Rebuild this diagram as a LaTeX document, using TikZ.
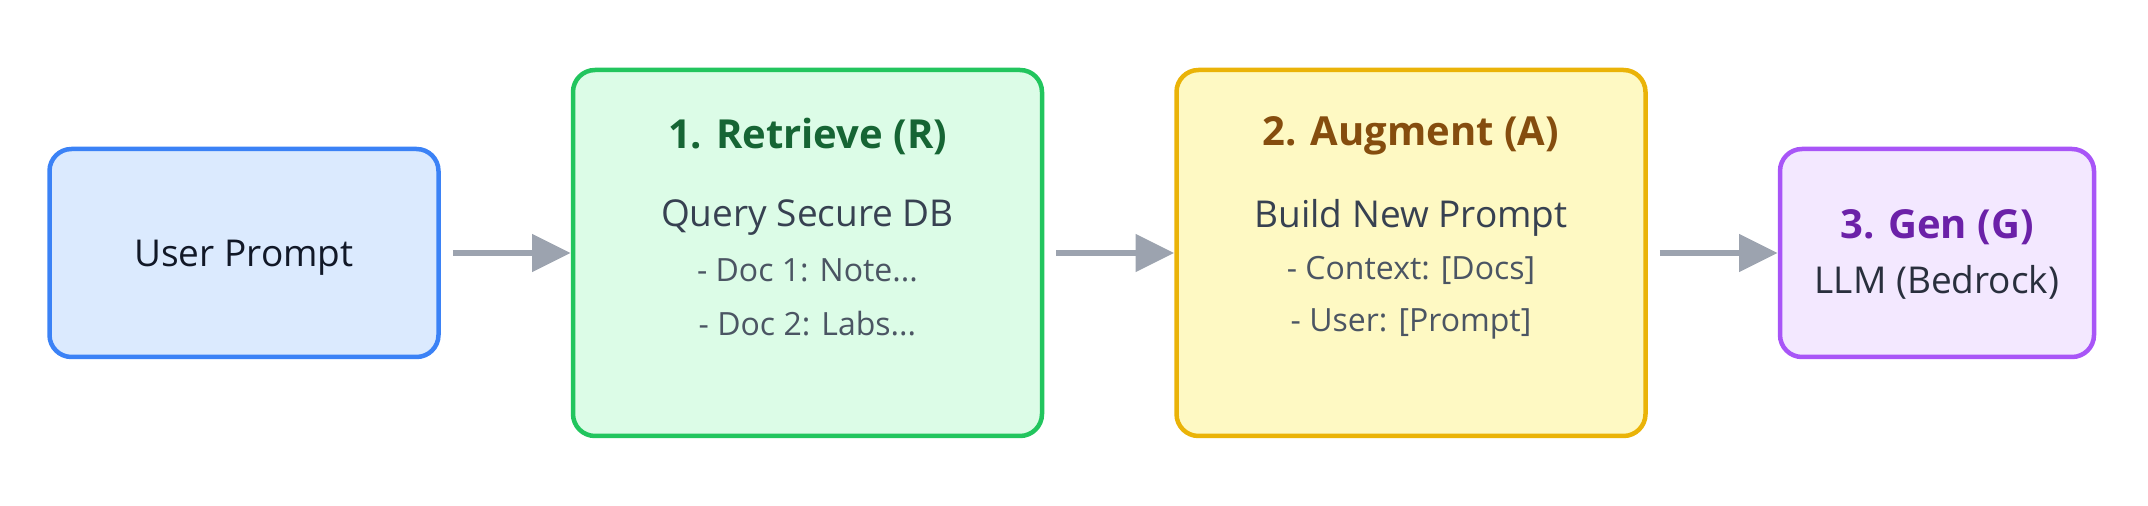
\documentclass[tikz,border=0pt]{standalone}
\usepackage{fontspec}
\setmainfont{Open Sans}
\usepackage{xcolor}
\usetikzlibrary{arrows.meta,positioning,calc}

\definecolor{userline}{HTML}{3B82F6}
\definecolor{userfill}{HTML}{DBEAFE}
\definecolor{retline}{HTML}{22C55E}
\definecolor{retfill}{HTML}{DCFCE7}
\definecolor{rettext}{HTML}{166534}
\definecolor{augline}{HTML}{EAB308}
\definecolor{augfill}{HTML}{FEF9C3}
\definecolor{augtext}{HTML}{854D0E}
\definecolor{genline}{HTML}{A855F7}
\definecolor{genfill}{HTML}{F3E8FF}
\definecolor{gentext}{HTML}{6B21A8}
\definecolor{bodytext}{HTML}{374151}
\definecolor{detailtext}{HTML}{4B5563}
\definecolor{darktext}{HTML}{111827}
\definecolor{flowgray}{HTML}{9CA3AF}

\tikzset{
    stage/.style={draw, line width=2.25pt, rounded corners=11pt, align=center},
    smallstage/.style={stage, minimum width=194.5pt, minimum height=104pt},
    bigstage/.style={stage, minimum width=234.5pt, minimum height=183pt},
    heading/.style={font=\bfseries\fontsize{20}{24}\selectfont},
    bodyline/.style={font=\fontsize{18.5}{22}\selectfont, text=bodytext},
    detailline/.style={font=\fontsize{16}{19}\selectfont, text=detailtext},
    flow/.style={draw=flowgray, line width=3pt, -{Triangle[length=19.3pt,width=18.3pt]}}
}

\begin{document}
\begin{tikzpicture}[node distance=65pt]
    \useasboundingbox (0,0) rectangle (1074pt,-253pt);

    % 四个阶段
    \node[smallstage, fill=userfill, draw=userline, text=darktext, text depth=0pt,
          font=\fontsize{18.5}{22}\selectfont] (user) at (122pt,-126.5pt) {User Prompt};
    \node[bigstage, fill=retfill, draw=retline, right=of user] (ret) {};
    \node[bigstage, fill=augfill, draw=augline, right=of ret] (aug) {};
    \node[smallstage, minimum width=157pt, fill=genfill, draw=genline, right=of aug] (gen) {};

    % 检索
    \node[heading, text=rettext] (rettitle) at ([yshift=58.5pt]ret.center) {1. Retrieve (R)};
    \node[bodyline] (retquery) at ([yshift=17.5pt]ret.center) {Query Secure DB};
    \node[detailline] (retdoca) at ([yshift=-8.5pt]ret.center) {- Doc 1: Note...};
    \node[detailline] (retdocb) at ([yshift=-35.5pt]ret.center) {- Doc 2: Labs...};

    % 增强
    \node[heading, text=augtext] (augtitle) at ([yshift=58.5pt]aug.center) {2. Augment (A)};
    \node[bodyline] (augbuild) at ([yshift=17.5pt]aug.center) {Build New Prompt};
    \node[detailline] (augctx) at ([yshift=-8.5pt]aug.center) {- Context: [Docs]};
    \node[detailline] (auguser) at ([yshift=-35.5pt]aug.center) {- User: [Prompt]};

    % 生成
    \node[heading, text=gentext] (gentitle) at ([yshift=13pt]gen.center) {3. Gen (G)};
    \node[bodyline, text=darktext!90!white] (genllm) at ([yshift=-14.5pt]gen.center) {LLM (Bedrock)};

    % 箭头
    \draw[flow] ([xshift=6pt]user.east) -- (ret.west);
    \draw[flow] ([xshift=6pt]ret.east) -- (aug.west);
    \draw[flow] ([xshift=6pt]aug.east) -- (gen.west);
\end{tikzpicture}
\end{document}
